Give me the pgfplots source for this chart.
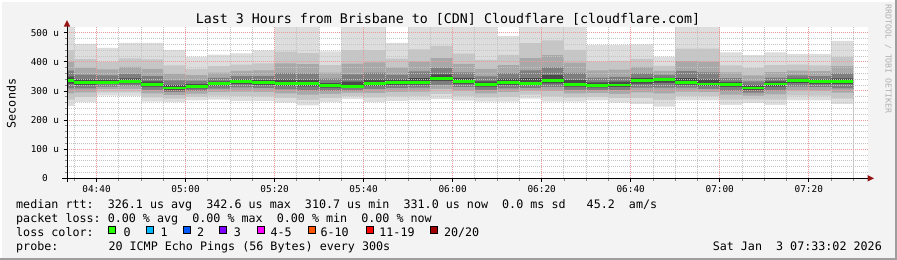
\documentclass[border=0pt]{standalone}
\usepackage{pgfplots}
\pgfplotsset{compat=1.18}
\usepackage{pgfplotstable}
\usepackage{fontspec}
\setmainfont{DejaVu Sans Mono}
\newfontfamily\rrd{DejaVu Sans Mono}
\newcommand\titlefont{\rrd\fontsize{13.3bp}{15bp}\selectfont}
\newcommand\legfont{\rrd\fontsize{11.7bp}{13bp}\selectfont}
\newcommand\tickfont{\rrd\fontsize{9.4bp}{11bp}\selectfont}
\newcommand\sidefont{\rrd\fontsize{8.2bp}{9bp}\selectfont}
\definecolor{bgc}{HTML}{F3F3F3}
\definecolor{borderc}{HTML}{9E9E9E}
\definecolor{mgrid}{HTML}{EB9A9A}
\definecolor{sgrid}{HTML}{C4C4C4}
\definecolor{sm1}{HTML}{DDDDDD}
\definecolor{sm2}{HTML}{C6C6C6}
\definecolor{sm3}{HTML}{A8A8A8}
\definecolor{sm4}{HTML}{7E7E7E}
\definecolor{sm5}{HTML}{4A4A4A}
\definecolor{medc}{HTML}{1EFF00}
\definecolor{arrowred}{HTML}{961414}
\definecolor{sidegray}{HTML}{B0B0B0}
\definecolor{l0}{HTML}{26FF00}
\definecolor{l1}{HTML}{00B8FF}
\definecolor{l2}{HTML}{0059FF}
\definecolor{l3}{HTML}{7E00FF}
\definecolor{l4}{HTML}{FF00FF}
\definecolor{l5}{HTML}{FF5500}
\definecolor{l6}{HTML}{FF0000}
\definecolor{l7}{HTML}{A10000}

% x = minutes after 04:00; each row holds the step that starts at x
\pgfplotstableread{
x     max hi2 hi3 hi4 hi5 med lo5 lo4 lo3 lo2 min
33.37 530 440 401 370 349 335 325 309 292 270 248
35    462 409 380 356 340 329 321 309 295 279 262
40    448 400 374 353 339 329 324 315 306 295 284
45    465 412 383 359 343 332 326 317 307 295 283
50    465 408 376 351 333 322 315 304 292 278 263
55    440 388 359 336 320 310 304 296 286 274 262
60    417 376 354 335 323 315 309 301 291 280 268
65    425 385 363 345 333 325 318 308 297 284 270
70    429 390 369 351 340 332 324 312 298 282 265
75    439 395 371 351 338 329 321 310 297 281 265
80    530 435 395 362 340 325 317 305 292 276 260
85    530 430 392 360 339 325 316 302 287 269 250
90    436 389 363 342 327 318 311 301 290 276 262
95    530 440 394 357 332 315 310 302 294 283 273
100   530 440 398 363 340 325 317 306 293 278 262
105   465 411 381 356 340 329 321 310 297 281 265
110   530 443 401 367 344 329 322 311 298 283 268
115   530 455 413 380 357 342 334 321 307 290 272
120   530 428 393 364 345 332 324 313 300 283 267
125   530 407 376 350 333 322 315 304 292 278 263
130   488 424 389 361 342 329 321 309 296 280 263
135   530 464 413 371 344 325 319 310 300 287 274
140   530 474 423 381 354 335 326 313 299 281 263
145   530 441 397 362 338 322 315 304 292 278 263
150   457 401 371 346 329 318 312 303 293 280 268
155   457 403 373 348 332 321 314 303 290 275 260
160   460 410 383 360 345 335 325 311 295 275 255
165   417 386 369 355 345 339 328 311 292 269 246
170   530 445 402 368 344 329 322 311 298 283 268
175   530 445 401 364 340 324 317 307 296 282 268
180   432 388 364 344 331 322 314 301 287 270 252
185   423 378 353 333 319 310 304 294 284 271 258
190   432 389 365 346 333 324 315 302 288 270 252
195   426 390 370 353 342 335 327 315 302 285 268
200   426 388 368 351 340 332 324 313 300 284 268
205   472 416 385 360 343 332 323 309 294 274 255
210   472 416 385 360 343 332 323 309 294 274 255
}\smoke

\pgfplotsset{rrdbox/.style={
  at={(67bp,-178.3bp)}, anchor=south west,
  scale only axis, width=801.3bp, height=151bp,
  xmin=33.37, xmax=213.37, ymin=0, ymax=518.5}}

\begin{document}
\begin{tikzpicture}
\fill[bgc] (0,0) rectangle (897bp,-260bp);
\draw[white, line width=2bp] (1bp,-259bp) -- (1bp,-1bp) -- (896bp,-1bp);
\draw[borderc, line width=2bp] (0,-259bp) -- (896bp,-259bp) -- (896bp,0);
\fill[white] (67bp,-27.3bp) rectangle (868.3bp,-178.3bp);

\begin{axis}[
  rrdbox,
  axis on top,
  axis x line*=bottom, axis y line*=left,
  axis line style={black, line width=1bp},
  xtick={40,60,...,200},
  xticklabels={04:40,05:00,05:20,05:40,06:00,06:20,06:40,07:00,07:20},
  minor xtick={35,45,50,55,65,70,75,85,90,95,105,110,115,125,130,135,145,150,155,165,170,175,185,190,195,205,210},
  ytick={0,100,200,300,400,500},
  yticklabels={0\phantom{~u},100~u,200~u,300~u,400~u,500~u},
  minor ytick={20,40,60,80,120,140,160,180,220,240,260,280,320,340,360,380,420,440,460,480},
  grid=both,
  major grid style={draw=mgrid, line width=0.9bp, dash pattern=on 1bp off 1bp},
  minor grid style={draw=sgrid, line width=0.9bp, dash pattern=on 1bp off 1bp},
  tick align=outside,
  major tick length=3.5bp, minor tick length=2.5bp,
  major tick style={black, line width=0.8bp},
  minor tick style={black!45, line width=0.8bp},
  tick label style={font=\tickfont, inner sep=0pt},
  xticklabel style={anchor=north, yshift=-3.2bp},
  yticklabel style={anchor=east, xshift=-4.2bp},
]
\addplot[const plot, fill=sm1, draw=none] table[x=x, y=max] {\smoke} \closedcycle;
\addplot[const plot, fill=sm2, draw=none] table[x=x, y=hi2] {\smoke} \closedcycle;
\addplot[const plot, fill=sm3, draw=none] table[x=x, y=hi3] {\smoke} \closedcycle;
\addplot[const plot, fill=sm4, draw=none] table[x=x, y=hi4] {\smoke} \closedcycle;
\addplot[const plot, fill=sm5, draw=none] table[x=x, y=hi5] {\smoke} \closedcycle;
\addplot[const plot, fill=sm4, draw=none] table[x=x, y=lo5] {\smoke} \closedcycle;
\addplot[const plot, fill=sm3, draw=none] table[x=x, y=lo4] {\smoke} \closedcycle;
\addplot[const plot, fill=sm2, draw=none] table[x=x, y=lo3] {\smoke} \closedcycle;
\addplot[const plot, fill=sm1, draw=none] table[x=x, y=lo2] {\smoke} \closedcycle;
\addplot[const plot, fill=white, draw=none] table[x=x, y=min] {\smoke} \closedcycle;
\end{axis}

% overlay axis: median line drawn above the grid
\begin{axis}[rrdbox, hide axis]
\addplot[jump mark left, draw=medc, solid, line width=2.5bp, line cap=butt, mark=none] table[x=x, y=med] {\smoke};
\end{axis}

% axis extensions and arrows
\draw[black, line width=1bp] (62bp,-178.3bp) -- (868bp,-178.3bp);
\draw[black, line width=1bp] (67bp,-182bp) -- (67bp,-26bp);
\fill[arrowred] (67bp,-20bp) -- (63.8bp,-26.5bp) -- (70.2bp,-26.5bp) -- cycle;
\fill[arrowred] (874bp,-178.3bp) -- (867.5bp,-175bp) -- (867.5bp,-181.6bp) -- cycle;

% titles
\node[anchor=base, inner sep=0pt, font=\titlefont] at (448bp,-23.5bp) {Last 3 Hours from Brisbane to [CDN] Cloudflare [cloudflare.com]};
\node[rotate=90, inner sep=0pt, font=\legfont] at (11.2bp,-103.5bp) {Seconds};
\node[rotate=-90, inner sep=0pt, font=\sidefont, text=sidegray] at (888.4bp,-59bp) {RRDTOOL / TOBI OETIKER};

% legend
\node[anchor=base west, inner sep=0pt, font=\legfont] at (16bp,-208bp) {median~rtt:~~326.1~us~avg~~342.6~us~max~~310.7~us~min~~331.0~us~now~~0.0~ms~sd~~~45.2~~am/s};
\node[anchor=base west, inner sep=0pt, font=\legfont] at (16bp,-222bp) {packet~loss:~0.00~\%~avg~~0.00~\%~max~~0.00~\%~min~~0.00~\%~now};
\node[anchor=base west, inner sep=0pt, font=\legfont] at (16bp,-236bp) {loss~color:};
\foreach \bx/\lx/\c/\t in {108.3/123.5/l0/0, 145.7/160.5/l1/1, 182.7/197/l2/2, 219.3/233.7/l3/3, 256.7/270.3/l4/4-5, 307.6/320.3/l5/6-10, 365.8/379.2/l6/11-19, 430.4/443.8/l7/{20/20}}{
  \filldraw[fill=\c, draw=black, line width=1bp] ({(\bx+0.5)*1bp},-226.5bp) rectangle ({(\bx+7.4)*1bp},-233.8bp);
  \node[anchor=base west, inner sep=0pt, font=\legfont] at (\lx bp,-236bp) {\t};
}
\node[anchor=base west, inner sep=0pt, font=\legfont] at (16bp,-250bp) {probe:};
\node[anchor=base west, inner sep=0pt, font=\legfont] at (108.3bp,-250bp) {20~ICMP~Echo~Pings~(56~Bytes)~every~300s};
\node[anchor=base east, inner sep=0pt, font=\legfont] at (882bp,-250bp) {Sat~Jan~~3~07:33:02~2026};
\pgfresetboundingbox
\useasboundingbox (0,0) rectangle (897bp,-260bp);
\end{tikzpicture}
\end{document}
